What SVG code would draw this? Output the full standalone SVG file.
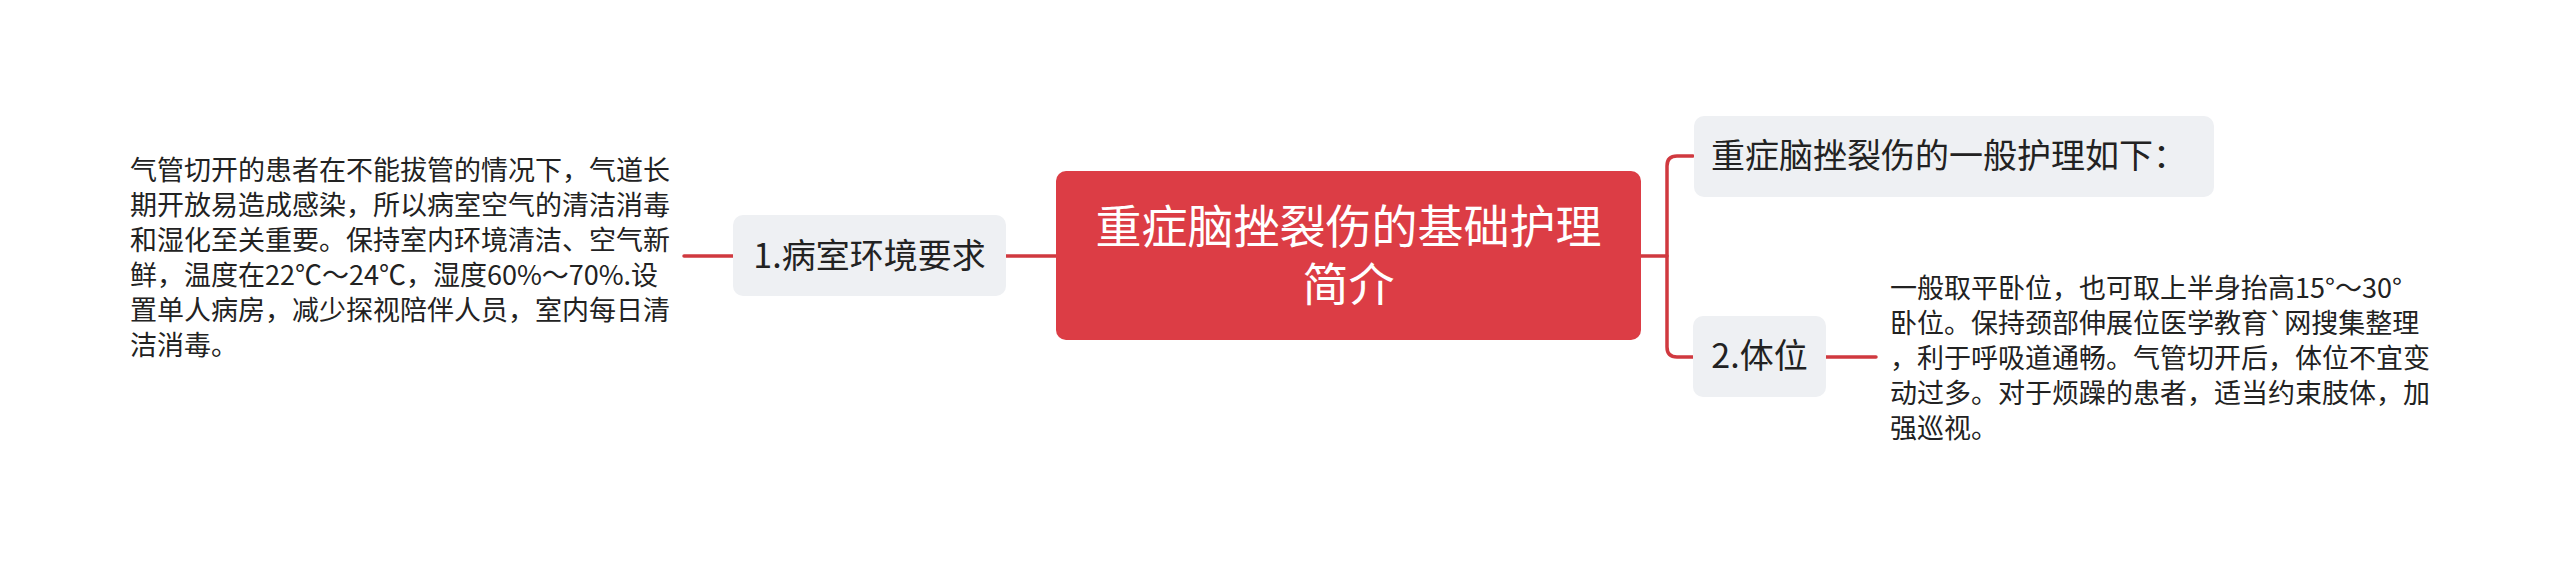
<svg xmlns="http://www.w3.org/2000/svg" width="2560" height="571" viewBox="0 0 2560 571">
<style>
.conn{fill:none;stroke:#d0393f;stroke-width:3.5;stroke-linecap:round}
.sub{fill:#eef0f3}
.t{font-family:"Noto Sans CJK SC","Noto Sans",sans-serif;fill:#222}
.main{font-family:"Noto Sans CJK SC","Noto Sans",sans-serif;fill:#fff;font-size:46px}
.n{font-size:34px}
.p{font-size:27px}
</style>
<rect width="2560" height="571" fill="#fff"/>
<g id="connectors">
<path class="conn" d="M684 256 H733"/>
<path class="conn" d="M1005 256 H1056"/>
<path class="conn" d="M1641 256 H1667"/>
<path class="conn" d="M1693 156 H1677 Q1667 156 1667 166 V347 Q1667 357 1677 357 H1693"/>
<path class="conn" d="M1825 357 H1876"/>
</g>
<g id="root">
<rect x="1056" y="171" width="585" height="169" rx="10" fill="#dc3d45"/>
<text class="main" x="1348.5" y="243" text-anchor="middle">重症脑挫裂伤的基础护理</text>
<text class="main" x="1348.5" y="301" text-anchor="middle">简介</text>
</g>
<g id="node-env">
<rect class="sub" x="733" y="215" width="273" height="81" rx="10"/>
<text class="t n" x="869.5" y="268" text-anchor="middle">1.病室环境要求</text>
</g>
<g id="node-env-detail">
<text class="t p" x="130" y="180">气管切开的患者在不能拔管的情况下，气道长</text>
<text class="t p" x="130" y="215">期开放易造成感染，所以病室空气的清洁消毒</text>
<text class="t p" x="130" y="250">和湿化至关重要。保持室内环境清洁、空气新</text>
<text class="t p" x="130" y="285">鲜，温度在22℃～24℃，湿度60%～70%.设</text>
<text class="t p" x="130" y="320">置单人病房，减少探视陪伴人员，室内每日清</text>
<text class="t p" x="130" y="355">洁消毒。</text>
</g>
<g id="node-general">
<rect class="sub" x="1694" y="116" width="520" height="81" rx="10"/>
<text class="t n" x="1711" y="168">重症脑挫裂伤的一般护理如下：</text>
</g>
<g id="node-position">
<rect class="sub" x="1693" y="316" width="133" height="81" rx="10"/>
<text class="t n" x="1759.5" y="368" text-anchor="middle">2.体位</text>
</g>
<g id="node-position-detail">
<text class="t p" x="1890" y="298">一般取平卧位，也可取上半身抬高15°～30°</text>
<text class="t p" x="1890" y="333">卧位。保持颈部伸展位医学教育`网搜集整理</text>
<text class="t p" x="1890" y="368">，利于呼吸道通畅。气管切开后，体位不宜变</text>
<text class="t p" x="1890" y="403">动过多。对于烦躁的患者，适当约束肢体，加</text>
<text class="t p" x="1890" y="438">强巡视。</text>
</g>
</svg>
